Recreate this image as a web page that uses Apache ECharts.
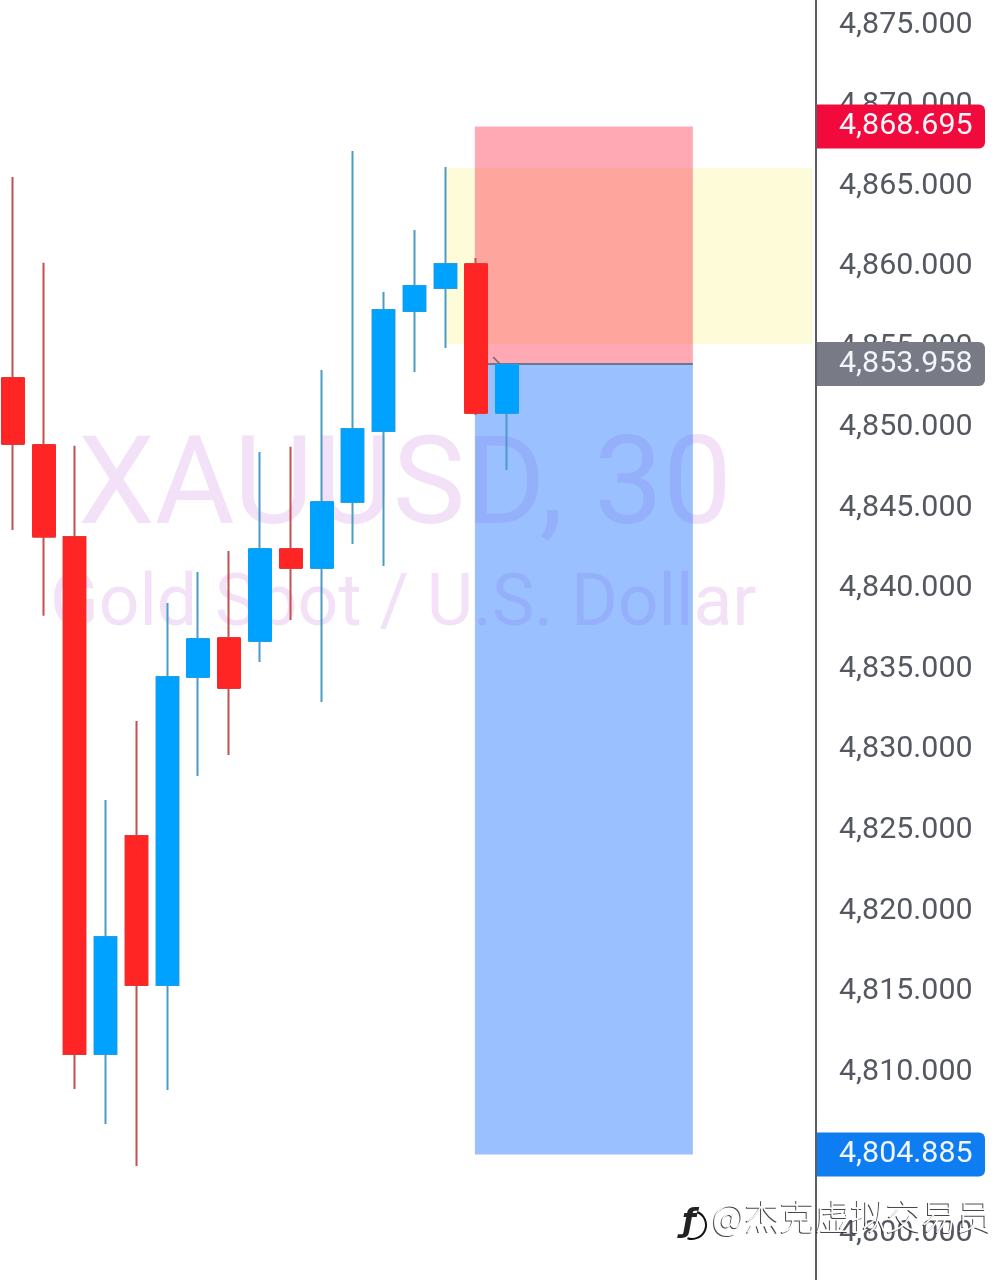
<!DOCTYPE html>
<html><head><meta charset="utf-8">
<style>html,body{margin:0;padding:0;background:#fff}#c{width:998px;height:1280px}</style>
<script src="https://cdn.jsdelivr.net/npm/echarts@6/dist/echarts.min.js"></script>
</head><body><div id="c"></div>
<script>
const slots = [0,1,2,3,4,5,6,7,8,9,10,11,12,13,14,15,16];
const opens  = [4853.09,4848.93,4843.21,4811.12,4824.65,4815.40,4834.52,4836.94,4836.76,4842.47,4841.29,4845.39,4849.80,4857.24,4858.67,4860.16,4850.91];
const closes = [4848.99,4843.23,4811.12,4818.38,4815.40,4834.52,4836.88,4833.84,4842.47,4841.29,4845.39,4849.92,4857.31,4858.80,4860.16,4850.91,4853.90];
const lows   = [4843.65,4838.33,4808.95,4806.77,4804.17,4808.88,4828.38,4829.68,4835.45,4838.06,4832.97,4842.78,4841.41,4853.46,4854.95,4850.79,4847.37];
const highs  = [4865.56,4860.24,4848.88,4826.89,4831.79,4839.12,4841.04,4842.35,4848.49,4848.82,4853.58,4867.18,4858.42,4862.27,4866.18,4860.54,4853.90];

// zones: [xStart, xEnd, priceTop, priceBottom, fill]
const zoneYellow = [14.02, 25.88, 4866.1, 4855.2, 'rgba(253,245,157,0.4)'];
const zoneStop   = [14.96, 22.02, 4868.695, 4853.958, 'rgba(255,40,70,0.4)'];
const zoneTarget = [14.96, 22.02, 4853.958, 4804.885, 'rgba(42,121,255,0.47)'];
// line marks: [xStart, xEnd, priceStart, priceEnd, colour, width]
const entryLine  = [14.96, 22.02, 4853.958, 4853.958, '#66789a', 2];
const cursorMark = [15.55, 15.77, 4854.39, 4853.95, '#6b6b6b', 1.5];
// price tags
const tagPrices = [4868.695, 4853.958, 4804.885];
const tagColors = ['#f20a3c', '#787b86', '#0f7df2'];

const fmt = v => v.toLocaleString('en-US', {minimumFractionDigits: 3, maximumFractionDigits: 3});
const FONT = 'Roboto';
const chart = echarts.init(document.getElementById('c'), null, {renderer: 'canvas'});
const GRID_W = 816;

chart.setOption({
  animation: false,
  backgroundColor: '#ffffff',
  grid: {left: 0, width: GRID_W, top: -55.54, height: 1369.18, containLabel: false, outerBoundsMode: 'none'},
  xAxis: {type: 'value', min: -0.421, max: 26.008, show: false, splitLine: {show: false}},
  yAxis: {
    type: 'value', position: 'right', min: 4795, max: 4880, interval: 5, scale: true,
    splitLine: {show: false}, axisTick: {show: false},
    axisLine: {show: true, onZero: false, lineStyle: {color: '#5b5e68', width: 2}},
    axisLabel: {
      inside: false, margin: 23, fontFamily: FONT, fontSize: 30.4, color: '#555862',
      padding: [0, 0, 5, 0], formatter: v => fmt(v), showMinLabel: true, showMaxLabel: true, hideOverlap: false
    }
  },
  graphic: [
    {type: 'text', z: 0, left: 78, top: 431, style: {text: 'XAUUSD, 30', font: '400 122.5px ' + FONT, fill: '#f3e1f7'}},
    {type: 'text', z: 0, left: 50, top: 571, style: {text: 'Gold Spot / U.S. Dollar', font: '400 71.5px ' + FONT, fill: '#f3e1f7'}},
    {type: 'text', z: 100, zlevel: 1, left: 682, top: 1207, style: {text: 'ƒ', font: 'italic 700 32px "DejaVu Sans"', fill: '#222'}},
    {type: 'arc', z: 100, zlevel: 1, shape: {cx: 692, cy: 1225, r: 14, startAngle: -1.2, endAngle: 1.9}, style: {stroke: '#111', lineWidth: 2, fill: null}},
    {type: 'text', z: 99, zlevel: 1, left: 711, top: 1200, style: {text: '@杰克虚拟交易员', font: '300 35.4px "Noto Sans CJK SC"', fill: 'rgba(40,40,40,0.85)'}},
    {type: 'text', z: 100, zlevel: 1, left: 712, top: 1199, style: {text: '@杰克虚拟交易员', font: '300 35.4px "Noto Sans CJK SC"', fill: 'rgba(255,255,255,0.97)'}}
  ],
  series: [
    {
      type: 'custom', name: 'zones', z: 1, silent: true, clip: false,
      data: [zoneYellow, zoneStop, zoneTarget],
      encode: {x: [0, 1], y: [2, 3]},
      renderItem: (p, api) => {
        const a = api.coord([api.value(0), api.value(2)]);
        const b = api.coord([api.value(1), api.value(3)]);
        const fill = [zoneYellow, zoneStop, zoneTarget][p.dataIndex][4];
        return {type: 'rect', shape: {x: a[0], y: a[1], width: b[0] - a[0], height: b[1] - a[1]}, style: {fill}};
      }
    },
    {
      type: 'candlestick', name: 'wicks', z: 3, silent: true, barWidth: 22,
      encode: {x: 0, y: [1, 2, 3, 4]},
      itemStyle: {color: '#00a2ff', color0: '#ff2525', borderColor: '#4a9cc4', borderColor0: '#c4504f', borderWidth: 2},
      data: slots.map((s, i) => [s, opens[i], closes[i], lows[i], highs[i]])
    },
    {
      type: 'candlestick', name: 'bodies', z: 4, silent: true, barWidth: 23,
      encode: {x: 0, y: [1, 2, 3, 4]},
      itemStyle: {color: '#00a2ff', color0: '#ff2525', borderColor: '#00a2ff', borderColor0: '#ff2525', borderWidth: 1},
      data: slots.map((s, i) => [s, opens[i], closes[i], Math.min(opens[i], closes[i]), Math.max(opens[i], closes[i])])
    },
    {
      type: 'custom', name: 'lines', z: 2, silent: true, clip: false,
      data: [entryLine, cursorMark],
      encode: {x: [0, 1], y: [2, 3]},
      renderItem: (p, api) => {
        const a = api.coord([api.value(0), api.value(2)]);
        const b = api.coord([api.value(1), api.value(3)]);
        const m = [entryLine, cursorMark][p.dataIndex];
        return {type: 'line', shape: {x1: a[0], y1: a[1], x2: b[0], y2: b[1]}, style: {stroke: m[4], lineWidth: m[5]}};
      }
    },
    {
      type: 'custom', name: 'tags', z: 20, silent: true, clip: false,
      data: tagPrices.map(p => [0, p]),
      encode: {y: 1},
      renderItem: (p, api) => {
        const y = api.coord([0, api.value(1)])[1];
        return {type: 'group', children: [
          {type: 'rect', shape: {x: GRID_W + 1, y: y - 22, width: 168, height: 44, r: [0, 6, 6, 0]}, style: {fill: tagColors[p.dataIndex]}},
          {type: 'text', x: 839, y: y, style: {text: fmt(api.value(1)), font: '30.4px ' + FONT, fill: '#f2f6fa', verticalAlign: 'middle', align: 'left'}}
        ]};
      }
    }
  ]
});
</script></body></html>
